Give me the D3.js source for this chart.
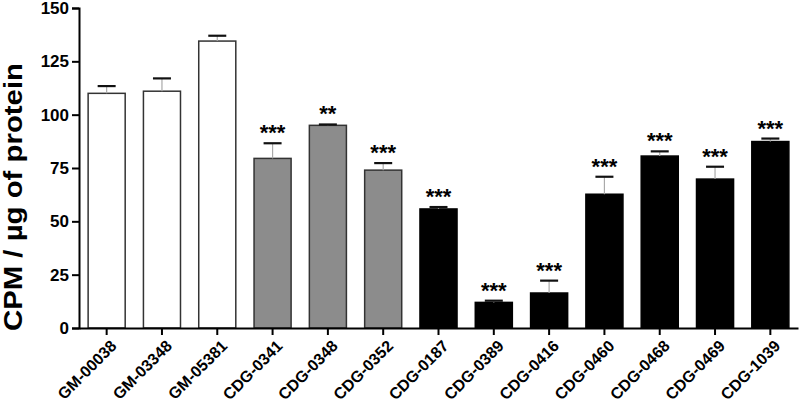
<!DOCTYPE html>
<html>
<head>
<meta charset="utf-8">
<script src="https://cdn.jsdelivr.net/npm/d3@7"></script>
<style>
  body { margin: 0; background: #fff; }
  text { font-family: Arial, "Liberation Sans", sans-serif; font-weight: bold; }
</style>
</head>
<body>
<div id="root"></div>
<script>
// Cell lines, group and measured values
const lines = ['GM-00038', 'GM-03348', 'GM-05381', 'CDG-0341', 'CDG-0348', 'CDG-0352', 'CDG-0187',
  'CDG-0389', 'CDG-0416', 'CDG-0460', 'CDG-0468', 'CDG-0469', 'CDG-1039']
const groups = ['ctrl', 'ctrl', 'ctrl', 'mid', 'mid', 'mid', 'low', 'low', 'low', 'low', 'low', 'low', 'low']
const means = [110, 111, 134.5, 79.5, 95, 74, 55.8, 12, 16.4, 62.7, 80.6, 69.8, 87.4]
const errors = [3.4, 6, 2.5, 7.1, 0.4, 3.3, 0.9, 0.8, 5.8, 8.2, 2.2, 5.8, 1.4]
const stars = ['', '', '', '***', '**', '***', '***', '***', '***', '***', '***', '***', '***']
const yTicks = [0, 25, 50, 75, 100, 125, 150]

const fills = { ctrl: '#ffffff', mid: '#8c8c8c', low: '#000000' }

const W = 800, H = 408
const margin = { top: 8, right: 2, bottom: 80, left: 79 }
const width = W - margin.left - margin.right
const height = H - margin.top - margin.bottom

const svg = d3.select('#root').append('svg')
  .attr('width', W)
  .attr('height', H)

const g = svg.append('g')
  .attr('transform', `translate(${margin.left},${margin.top})`)

const x = d3.scaleBand().domain(lines).range([0, width]).paddingInner(0.33).paddingOuter(0.165)
const y = d3.scaleLinear().domain([0, 150]).range([height, 0])

// bars
g.selectAll('.bar')
  .data(lines)
  .enter().append('rect')
  .attr('class', 'bar')
  .attr('x', d => x(d))
  .attr('y', (d, i) => y(means[i]))
  .attr('width', x.bandwidth())
  .attr('height', (d, i) => height - y(means[i]))
  .attr('fill', (d, i) => fills[groups[i]])
  .attr('stroke', (d, i) => groups[i] === 'low' ? '#000' : '#333')
  .attr('stroke-width', 1.5)

// error bars (upper only)
const cx = d => x(d) + x.bandwidth() / 2
g.selectAll('.err')
  .data(lines)
  .enter().append('line')
  .attr('x1', cx).attr('x2', cx)
  .attr('y1', (d, i) => y(means[i]))
  .attr('y2', (d, i) => y(means[i] + errors[i]))
  .attr('stroke', '#aaa')
  .attr('stroke-width', 1.2)

g.selectAll('.cap')
  .data(lines)
  .enter().append('line')
  .attr('x1', d => cx(d) - 9).attr('x2', d => cx(d) + 9)
  .attr('y1', (d, i) => y(means[i] + errors[i]))
  .attr('y2', (d, i) => y(means[i] + errors[i]))
  .attr('stroke', '#111')
  .attr('stroke-width', 2.2)

// significance stars
g.selectAll('.star')
  .data(lines)
  .enter().append('text')
  .attr('x', cx)
  .attr('y', (d, i) => y(means[i] + errors[i]) - 3)
  .attr('text-anchor', 'middle')
  .attr('font-size', 22)
  .text((d, i) => stars[i])

// axes
const yAxis = g.append('g')
  .call(d3.axisLeft(y).tickValues(yTicks).tickSize(7).tickPadding(3))
yAxis.selectAll('text').attr('font-size', 17).attr('fill', '#000')

const xAxis = g.append('g')
  .attr('transform', `translate(0,${height})`)
  .call(d3.axisBottom(x).tickSize(7).tickSizeOuter(0).tickFormat(''))

g.selectAll('.domain, .tick line').attr('stroke', '#000').attr('stroke-width', 2)

// category labels at -45 degrees
g.selectAll('.xlab')
  .data(lines)
  .enter().append('g')
  .attr('transform', d => `translate(${cx(d) + 11},${height + 19}) rotate(-45)`)
  .append('text')
  .attr('class', 'xlab')
  .attr('text-anchor', 'end')
  .attr('font-size', 16)
  .text(d => d)

// y label
svg.append('text')
  .attr('transform', `translate(22,197) rotate(-90)`)
  .attr('text-anchor', 'middle')
  .attr('font-size', 25)
  .attr('textLength', 268)
  .attr('lengthAdjust', 'spacingAndGlyphs')
  .text('CPM / µg of protein')
</script>
</body>
</html>
